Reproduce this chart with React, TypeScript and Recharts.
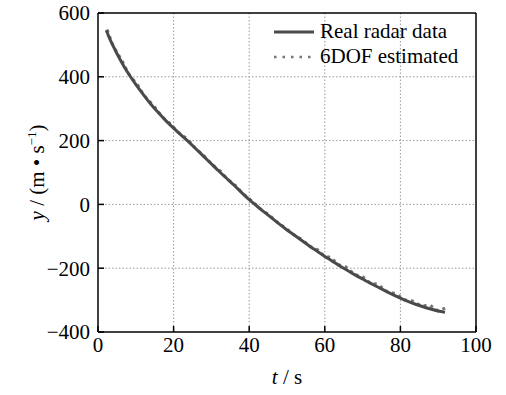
import React from "react";
import {
  LineChart,
  Line,
  XAxis,
  YAxis,
  CartesianGrid,
  Legend,
  ReferenceLine,
} from "recharts";

const xTicks = [0, 20, 40, 60, 80, 100];
const yTicks = [-400, -200, 0, 200, 400, 600];

const realT = [2.2, 3, 4, 5, 6, 7, 8, 9, 10, 12, 14, 16, 18, 20, 22, 24, 26, 28, 30, 32, 34, 36, 38, 40, 42, 44, 46, 48, 50, 52, 54, 56, 58, 60, 62, 64, 66, 68, 70, 72, 74, 76, 78, 80, 82, 84, 86, 88, 90, 91.8];
const realV = [546, 522, 497, 473, 451, 430, 411, 393, 376, 344, 314, 287, 262, 239, 217, 196, 173, 150, 127, 104, 82, 60, 37, 15, -5, -24, -43, -62, -80, -97, -114, -131, -147, -163, -178, -193, -207, -221, -234, -247, -259, -271, -283, -294, -304, -313, -321, -328, -334, -338];

const estT = [2.4, 4, 6.5, 8, 10.8, 12, 15.1, 17, 19.4, 21, 23.7, 26, 28, 30, 32.3, 34, 36.6, 38, 40.9, 43, 45.2, 47, 49.5, 52, 53.8, 56, 58.1, 60, 61.6, 63.5, 65.6, 68, 69.8, 72, 74, 76.5, 78.6, 81, 83.2, 85.5, 87.8, 90, 92.6];
const estV = [548, 497, 447, 411, 369, 344, 304, 274, 250, 228, 204, 173, 153, 127, 105, 82, 57, 37, 9, -15, -32, -52, -73, -97, -109, -131, -142, -163, -166, -189, -196, -221, -224, -247, -250, -274, -279, -299, -303, -318, -316, -334, -321];

const realData = realT.map((t, i) => ({ t, v: realV[i] }));
const estData = estT.map((t, i) => ({ t, v: estV[i] }));

const FONT = "'Liberation Serif', 'Times New Roman', serif";
const fmt = (v: number) => String(v).replace("-", "\u2212");

function XLabel(props: any) {
  const vb = props.viewBox || {};
  const cx = vb.x + vb.width / 2;
  return (
    <text x={cx} y={vb.y + 52} textAnchor="middle" fontFamily={FONT} fontSize={21} fill="#000">
      <tspan fontStyle="italic">t</tspan>
      <tspan> / s</tspan>
    </text>
  );
}

function YLabel(props: any) {
  const vb = props.viewBox || {};
  const cy = vb.y + vb.height / 2;
  const cx = 44;
  return (
    <text
      x={cx}
      y={cy}
      textAnchor="middle"
      fontFamily={FONT}
      fontSize={21}
      fill="#000"
      transform={`rotate(-90 ${cx} ${cy})`}
    >
      <tspan fontStyle="italic">y</tspan>
      <tspan> / (m • s</tspan>
      <tspan fontSize={13} dy={-8}>−1</tspan>
      <tspan dy={8}>)</tspan>
    </text>
  );
}

function LegendContent() {
  const row: React.CSSProperties = {
    display: "flex",
    alignItems: "center",
    height: 25,
    fontFamily: FONT,
    fontSize: 21,
    color: "#000",
    whiteSpace: "nowrap",
  };
  return (
    <div>
      <div style={row}>
        <svg width={42} height={10} style={{ marginRight: 5 }}>
          <line x1={1} y1={5} x2={41} y2={5} stroke="#4a4a4a" strokeWidth={3} />
        </svg>
        <span>Real radar data</span>
      </div>
      <div style={row}>
        <svg width={42} height={10} style={{ marginRight: 5 }}>
          <line x1={1} y1={5} x2={41} y2={5} stroke="#777" strokeWidth={2.5} strokeDasharray="2.5 6" />
        </svg>
        <span>6DOF estimated</span>
      </div>
    </div>
  );
}

export default function App() {
  return (
    <div style={{ position: "absolute", left: 0, top: 0, background: "#fff" }}>
      <LineChart
        width={506}
        height={395}
        margin={{ top: 13, right: 30, left: 0, bottom: 0 }}
      >
        <CartesianGrid
          stroke="#9a9a9a"
          strokeDasharray="1.5 2"
          strokeWidth={1}
          verticalValues={[20, 40, 60, 80]}
          horizontalValues={[-200, 0, 200, 400]}
        />
        <XAxis
          dataKey="t"
          type="number"
          domain={[0, 100]}
          ticks={xTicks}
          allowDataOverflow
          height={63}
          tickSize={-6}
          tickMargin={11}
          axisLine={{ stroke: "#000", strokeWidth: 1.5 }}
          tickLine={{ stroke: "#000", strokeWidth: 1.5 }}
          tick={{ fontFamily: FONT, fontSize: 21, fill: "#000" }}
          label={<XLabel />}
        />
        <YAxis
          type="number"
          domain={[-400, 600]}
          ticks={yTicks}
          tickFormatter={fmt}
          width={98}
          tickSize={-6}
          tickMargin={14}
          axisLine={{ stroke: "#000", strokeWidth: 1.5 }}
          tickLine={{ stroke: "#000", strokeWidth: 1.5 }}
          tick={{ fontFamily: FONT, fontSize: 21, fill: "#000" }}
          label={<YLabel />}
        />
        <ReferenceLine y={600} stroke="#000" strokeWidth={1.5} />
        <ReferenceLine x={100} stroke="#000" strokeWidth={1.5} />
        <Legend
          layout="vertical"
          verticalAlign="middle"
          align="center"
          content={<LegendContent />}
          wrapperStyle={{ left: 273, top: 19, width: 200 }}
        />
        <Line
          data={estData}
          dataKey="v"
          type="linear"
          stroke="#777"
          strokeWidth={3}
          strokeDasharray="3 4"
          dot={false}
          isAnimationActive={false}
        />
        <Line
          data={realData}
          dataKey="v"
          type="monotone"
          stroke="#4a4a4a"
          strokeWidth={3}
          dot={false}
          isAnimationActive={false}
        />
      </LineChart>
    </div>
  );
}
